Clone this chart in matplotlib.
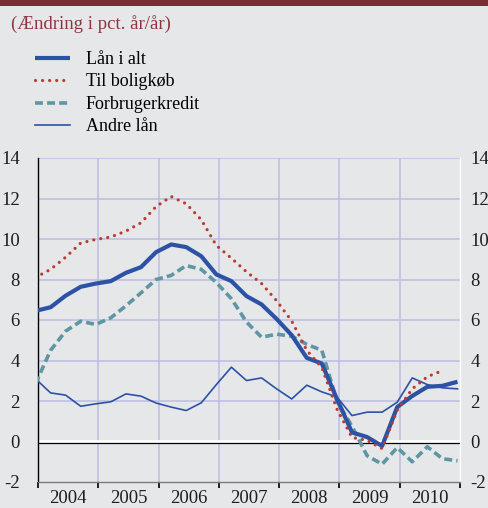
import matplotlib
matplotlib.use("Agg")
import matplotlib.pyplot as plt
import numpy as np
from matplotlib.patches import Rectangle

plt.rcParams['font.family'] = ['Liberation Serif', 'DejaVu Serif']

# Quarterly data, 2003Q4 .. 2010Q4
years = [2003] + [y for y in range(2004, 2011) for _ in range(4)]
quarters = [4] + [q for _ in range(2004, 2011) for q in range(1, 5)]

laan_i_alt = [6.45, 6.63, 7.2, 7.64, 7.8, 7.92, 8.33, 8.61, 9.35, 9.73, 9.6, 9.15,
              8.25, 7.92, 7.18, 6.77, 6.05, 5.25, 4.13, 3.85, 2.1, 0.45, 0.22, -0.22,
              1.7, 2.25, 2.7, 2.75, 2.95]
til_bolig = [8.1, 8.5, 9.1, 9.8, 9.98, 10.1, 10.39, 10.8, 11.6, 12.1, 11.74, 10.95,
             9.68, 9.05, 8.38, 7.8, 6.95, 5.95, 4.5, 3.65, 1.6, 0.2, 0.05, -0.35,
             1.55, 2.6, 3.2, 3.5, np.nan]
forbruger = [2.85, 4.5, 5.45, 5.94, 5.78, 6.11, 6.7, 7.34, 8.0, 8.2, 8.69, 8.5,
             7.85, 7.05, 5.9, 5.15, 5.3, 5.2, 4.8, 4.5, 2.0, 0.75, -0.7, -1.12,
             -0.3, -1.0, -0.26, -0.85, -0.95]
andre = [3.1, 2.4, 2.29, 1.74, 1.86, 1.96, 2.35, 2.24, 1.9, 1.7, 1.53, 1.91,
         2.81, 3.67, 3.01, 3.14, 2.6, 2.1, 2.78, 2.45, 2.2, 1.28, 1.45, 1.45,
         1.94, 3.14, 2.81, 2.65, 2.6]

year_labels = ['2004', '2005', '2006', '2007', '2008', '2009', '2010']
y_ticks = [-2, 0, 2, 4, 6, 8, 10, 12, 14]

t = np.array([y + (3 * q - 0.5) / 12 for y, q in zip(years, quarters)])

BG = '#e6e7e9'
BLUE = '#2c52a6'
RED = '#bb3a2f'
TEAL = '#5e97a3'
GRID = '#babde2'
TXT = '#1e1e1e'

fig = plt.figure(figsize=(4.88, 5.08), dpi=100, facecolor=BG)
fig.patches.append(Rectangle((0, 1 - 6 / 508), 1, 6 / 508, transform=fig.transFigure,
                             facecolor='#7b2b33', edgecolor='none', zorder=0))
fig.text(11 / 488, 1 - 24 / 508, '(Ændring i pct. år/år)', color='#8b3540',
         fontsize=13.5, va='center', ha='left')

ax = fig.add_axes([38 / 488, 1 - 482 / 508, 422 / 488, 324 / 508])
ax.set_facecolor(BG)
ax.set_xlim(2004, 2011)
ax.set_ylim(-2, 14)

# grid
for v in y_ticks[2:]:
    ax.axhline(v, color=GRID, lw=1.1, zorder=1)
for yr in range(2005, 2011):
    ax.axvline(yr, color=GRID, lw=1.1, zorder=1)
ax.axhline(0.03, color='white', lw=2.0, zorder=1.5)
ax.axhline(-0.05, color='black', lw=0.9, zorder=1.6)

l1, = ax.plot(t, laan_i_alt, color=BLUE, lw=3.0, solid_capstyle='butt',
              solid_joinstyle='round', zorder=5, label='Lån i alt')
l2, = ax.plot(t, til_bolig, color=RED, lw=2.3, linestyle=(0, (0.01, 2.2)),
              dash_capstyle='round', zorder=6, label='Til boligkøb')
l3, = ax.plot(t, forbruger, color=TEAL, lw=2.6, linestyle=(0, (2.2, 1.15)),
              dash_capstyle='butt', zorder=4, label='Forbrugerkredit')
l4, = ax.plot(t, andre, color=BLUE, lw=1.2, zorder=3, label='Andre lån')

# spines
ax.spines['top'].set_visible(False)
ax.spines['left'].set_color('black')
ax.spines['left'].set_linewidth(1.0)
ax.spines['right'].set_color('white')
ax.spines['right'].set_linewidth(1.0)
ax.spines['bottom'].set_color('#7a7a7a')
ax.spines['bottom'].set_linewidth(1.0)

ax.set_yticks(y_ticks)
ax.set_yticklabels([str(v) for v in y_ticks])
ax.tick_params(axis='y', left=False, right=False, labelleft=True, labelright=False,
               labelsize=13.5, labelcolor=TXT, pad=9.5)

sec = ax.secondary_yaxis('right')
sec.set_yticks(y_ticks)
sec.set_yticklabels([str(v) for v in y_ticks])
sec.tick_params(axis='y', length=0, labelsize=13.5, labelcolor=TXT, pad=7.5)
sec.spines['right'].set_visible(False)

ax.set_xticks(list(range(2004, 2012)))
ax.set_xticklabels([])
ax.set_xticks([y + 0.5 for y in range(2004, 2011)], minor=True)
ax.set_xticklabels(year_labels, minor=True)
ax.tick_params(axis='x', which='major', direction='out', length=4, width=1.2,
               color='black')
ax.tick_params(axis='x', which='minor', length=0, labelsize=13.5, labelcolor=TXT, pad=5.5)

fig.legend(handles=[l1, l2, l3, l4], loc='upper left',
           bbox_to_anchor=(35 / 488, 1 - 51 / 508), frameon=False,
           fontsize=13, handlelength=1.95, handletextpad=0.85,
           labelspacing=0.3, borderpad=0, borderaxespad=0)

fig.savefig('out.png', dpi=100, facecolor=BG)
